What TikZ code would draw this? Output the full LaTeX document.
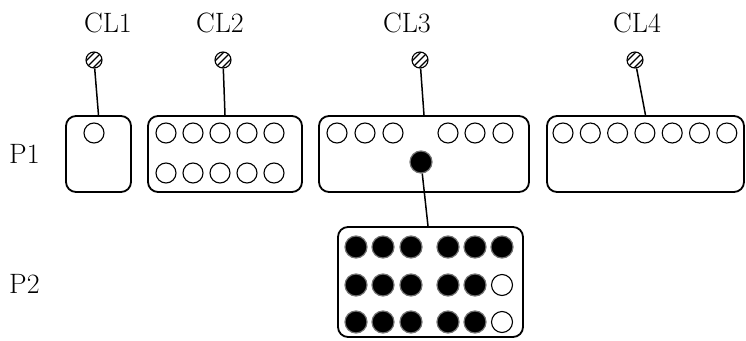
\documentclass[tikz,border=0pt]{standalone}
\begin{document}
\begin{tikzpicture}[x=1pt,y=-1pt,
  box/.style={draw,line width=1.8pt,rounded corners=10pt,minimum height=76pt,inner sep=0pt},
  hole/.style={circle,draw,line width=1.1pt,minimum size=20pt,inner sep=0pt},
  dot/.style={circle,fill=black,draw=black!55,line width=1.2pt,minimum size=22pt,inner sep=0pt},
  screw/.style={circle,draw,line width=1.1pt,minimum size=16pt,inner sep=0pt,
    path picture={\foreach \d in {-3.5,0,3.5}{
      \draw[line width=1.1pt] ([xshift={(\d-8)*1pt},yshift={(-\d-8)*1pt}]path picture bounding box.center) -- ++(16pt,16pt);}}},
  wire/.style={line width=1.5pt},
  lbl/.style={font=\fontsize{28}{32}\selectfont,anchor=base,inner sep=0pt}]
\useasboundingbox (0,0) rectangle (746,340);

% LABELS
\node[lbl] (cl1) at (108,32) {CL1};
\node[lbl] (cl2) at (220,32) {CL2};
\node[lbl] (cl3) at (407,32) {CL3};
\node[lbl] (cl4) at (637,32) {CL4};
\node[lbl,anchor=base west] (p1) at (9,163) {P1};
\node[lbl,anchor=base west] (p2) at (9,293) {P2};

% SCREWS
\node[screw] (s1) at (94,60) {};
\node[screw] (s2) at (223,60) {};
\node[screw] (s3) at (420,60) {};
\node[screw] (s4) at (635,60) {};

% BOXES
\node[box,minimum width=65pt]  (b1) at (98.5,154) {};
\node[box,minimum width=154pt] (b2) at (225,154) {};
\node[box,minimum width=210pt] (b3) at (424,154) {};
\node[box,minimum width=197pt] (b4) at (645.5,154) {};
\node[box,minimum width=185pt,minimum height=110pt] (b5) at (430.5,282) {};

% HOLES
\node[hole] (h1) at (94,133) {};
\foreach \i in {0,...,4}{
  \node[hole] (h2a\i) at (166+27*\i,133) {};
  \node[hole] (h2b\i) at (166+27*\i,173) {};
}
\foreach \x [count=\i] in {337,365,393,448,475,503}
  \node[hole] (h3\i) at (\x,133) {};
\foreach \i in {0,...,6}
  \node[hole] (h4\i) at (563+27.3*\i,133) {};
\node[dot] (d3) at (421,162) {};

% P2 DOTS
\foreach \x [count=\i] in {356,383,411,448,475,502}
  \node[dot] (da\i) at (\x,247) {};
\foreach \x [count=\i] in {356,383,411,448,475}{
  \node[dot] (db\i) at (\x,285) {};
  \node[dot] (dc\i) at (\x,322) {};
}
\node[hole,minimum size=21pt] (db6) at (502,285) {};
\node[hole,minimum size=21pt] (dc6) at (502,322) {};

% WIRES
\draw[wire] (s1) -- (b1.north);
\draw[wire] (s2) -- (b2.north);
\draw[wire] (s3) -- (b3.north);
\draw[wire] (s4) -- (b4.north);
\draw[wire] (d3) -- ([xshift=-2.5pt]b5.north);
\end{tikzpicture}
\end{document}
